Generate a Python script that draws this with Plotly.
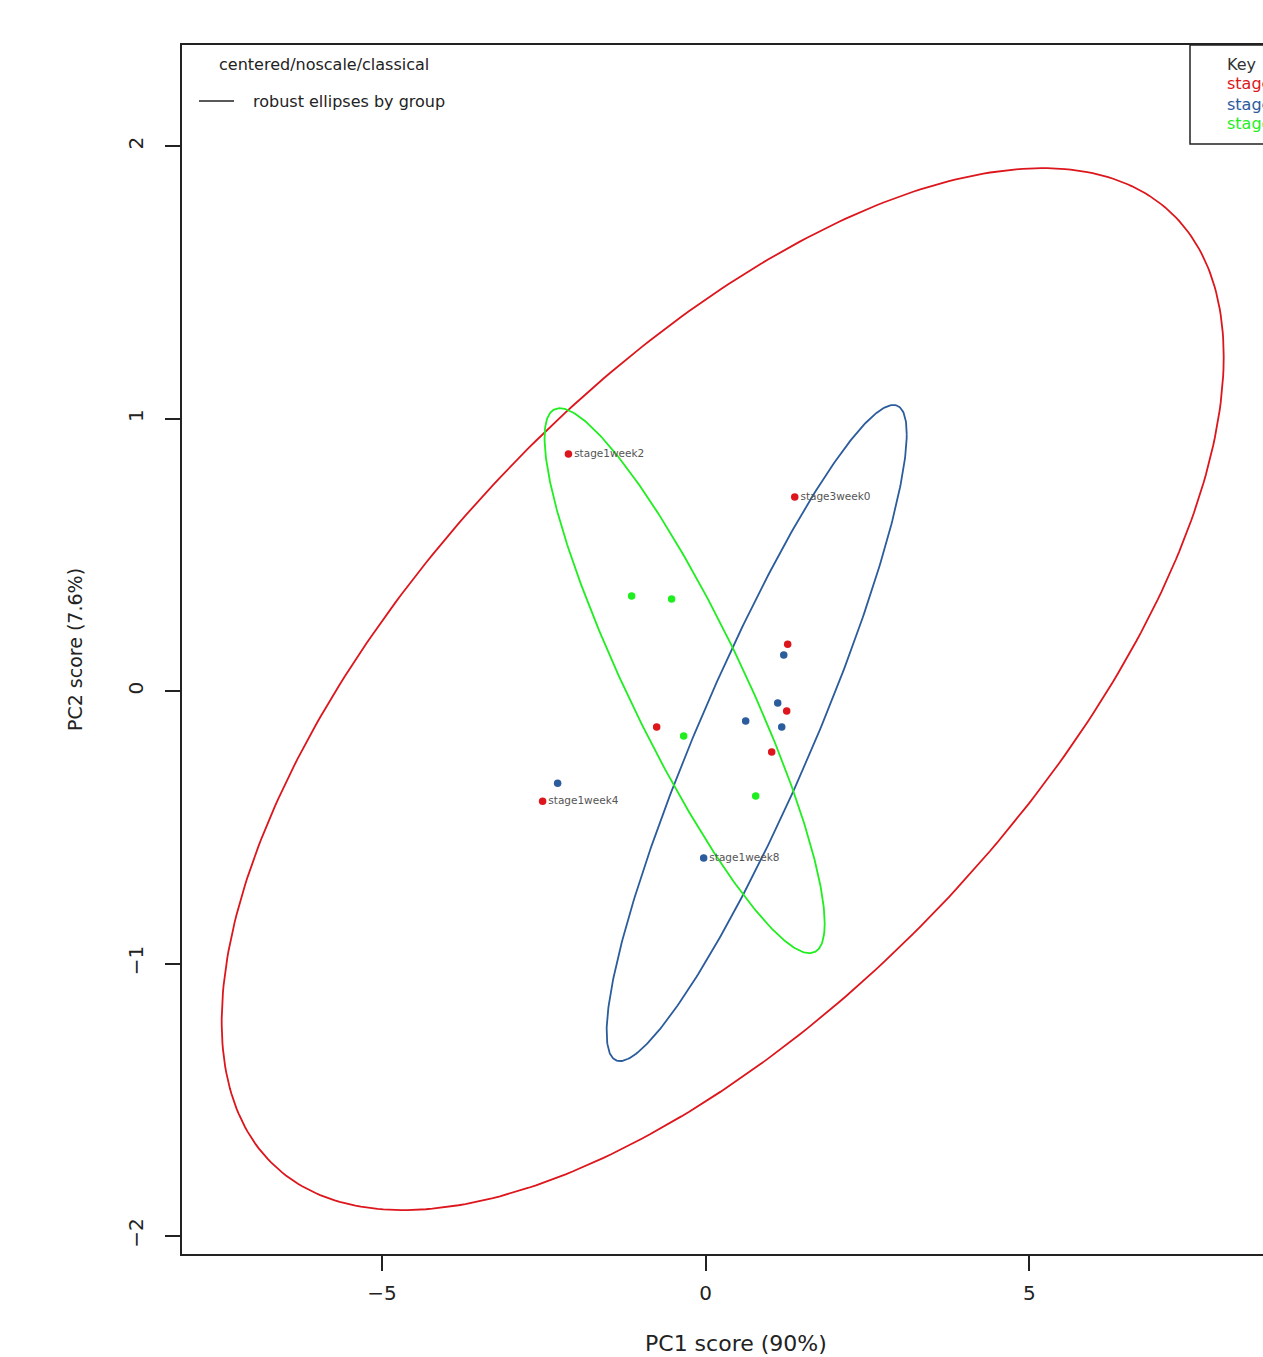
import numpy as np
import plotly.graph_objects as go

# PCA scores (PC1, PC2) per group
red_x = [-2.12, 1.376, 1.267, 1.252, -0.757, 1.020, -2.519]
red_y = [0.870, 0.712, 0.172, -0.073, -0.132, -0.224, -0.404]
red_lab = ["stage1week2", "stage3week0", "", "", "", "", "stage1week4"]

blue_x = [1.206, 1.113, 0.618, 1.175, -2.287, -0.031]
blue_y = [0.132, -0.044, -0.110, -0.132, -0.338, -0.613]
blue_lab = ["", "", "", "", "", "stage1week8"]

green_x = [-1.144, -0.526, -0.340, 0.773]
green_y = [0.349, 0.338, -0.165, -0.385]
green_lab = ["", "", "", ""]

# robust ellipse parameters per group: centre, x/y half-extent, correlation
ell_cx = [0.263, 0.788, -0.325]
ell_cy = [0.007, -0.154, 0.038]
ell_wx = [7.74, 2.318, 2.164]
ell_hy = [1.912, 1.204, 1.000]
ell_rho = [0.638, 0.911, -0.891]

key_labels = ["stage1", "stage2", "stage3"]
x_ticks = [-5, 0, 5]
y_ticks = [-2, -1, 0, 1, 2]

RED, BLUE, GREEN = "#dc161c", "#2b5c9c", "#1fee1f"
colors = [RED, BLUE, GREEN]
FONT = "DejaVu Sans, Liberation Sans, Arial, sans-serif"

fig = go.Figure()

t = np.linspace(0, 2 * np.pi, 400)
for cx, cy, wx, hy, rho, col in zip(ell_cx, ell_cy, ell_wx, ell_hy, ell_rho, colors):
    phi = np.arccos(rho)
    fig.add_trace(go.Scatter(
        x=cx + wx * np.cos(t), y=cy + hy * np.cos(t - phi),
        mode="lines", line=dict(color=col, width=1.8),
        hoverinfo="skip", showlegend=False))

for xs, ys, labs, col in [(red_x, red_y, red_lab, RED),
                          (blue_x, blue_y, blue_lab, BLUE),
                          (green_x, green_y, green_lab, GREEN)]:
    fig.add_trace(go.Scatter(
        x=xs, y=ys, mode="markers+text", text=labs,
        textposition="middle right",
        textfont=dict(family=FONT, size=10.5, color="#555555"),
        marker=dict(color=col, size=7.5),
        showlegend=False))

annotations = [
    dict(text="centered/noscale/classical", x=217, y=64),
    dict(text="robust ellipses by group", x=251, y=101),
    dict(text="Key", x=1225, y=64, color="#333333"),
]
for lab, col, yy in zip(key_labels, colors, [84, 104, 123]):
    annotations.append(dict(text=lab, x=1225, y=yy, color=col))

W, H = 1263, 1357
L, T, B = 182, 45, 103
PW, PH = W - L, H - T - B


def px(x):
    return (x - L) / PW


def py(y):
    return (H - B - y) / PH


ann = []
for a in annotations:
    ann.append(dict(text=a["text"], xref="paper", yref="paper",
                    x=px(a["x"]), y=py(a["y"]), xanchor="left", yanchor="middle",
                    showarrow=False,
                    font=dict(family=FONT, size=16, color=a.get("color", "#222222"))))

ann.append(dict(text="PC1 score (90%)", xref="paper", yref="paper",
                x=px(736), y=py(1343), xanchor="center", yanchor="middle",
                showarrow=False, font=dict(family=FONT, size=22, color="#222222")))
ann.append(dict(text="PC2 score (7.6%)", xref="paper", yref="paper",
                x=px(75), y=py(650), xanchor="center", yanchor="middle",
                textangle=-90, showarrow=False,
                font=dict(family=FONT, size=19, color="#222222")))

shapes = [
    # legend sample line
    dict(type="line", xref="paper", yref="paper",
         x0=px(199), x1=px(234), y0=py(101), y1=py(101),
         line=dict(color="#222222", width=1.5)),
    # key box
    dict(type="rect", xref="paper", yref="paper",
         x0=px(1190), x1=px(1330), y0=py(144), y1=py(45),
         line=dict(color="#222222", width=1.5)),
]

fig.update_layout(
    width=W, height=H,
    margin=dict(l=L, r=0, t=T, b=B, pad=0),
    paper_bgcolor="white", plot_bgcolor="white",
    annotations=ann, shapes=shapes,
    xaxis=dict(range=[-8.09, 8.61], tickvals=x_ticks,
               ticktext=["\u22125", "0", "5"],
               showgrid=False, zeroline=False,
               showline=True, mirror=True, linecolor="#222222", linewidth=1.5,
               ticks="outside", ticklen=15, tickcolor="#222222", tickwidth=1.5,
               ticklabelstandoff=5,
               tickfont=dict(family=FONT, size=20, color="#222222")),
    yaxis=dict(range=[-2.066, 2.371], tickvals=y_ticks,
               ticktext=["\u22122", "\u22121", "0", "1", "2"],
               showgrid=False, zeroline=False,
               showline=True, mirror=False, linecolor="#222222", linewidth=1.5,
               ticks="outside", ticklen=15, tickcolor="#222222", tickwidth=1.5,
               tickangle=-90, ticklabelstandoff=14,
               tickfont=dict(family=FONT, size=20, color="#222222")),
)

fig.write_html("out.html")
